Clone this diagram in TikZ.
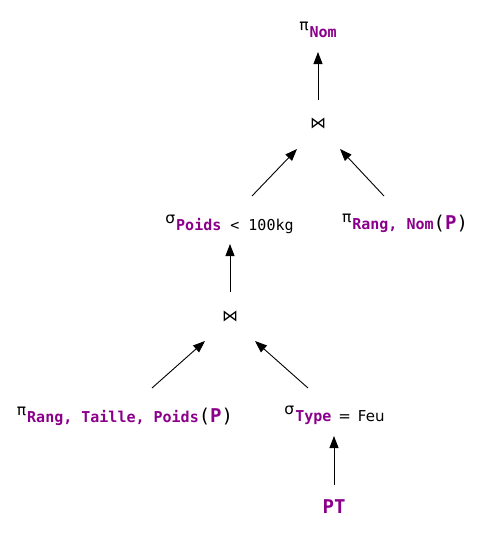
\documentclass[tikz,border=0pt]{standalone}
\usepackage{fontspec}
\usetikzlibrary{arrows.meta}
\newfontfamily\gkfont{DejaVu Sans}
\newfontfamily\monofont{DejaVu Sans Mono}
\definecolor{prp}{HTML}{8B008B}
\newcommand\opsym[1]{\raisebox{7pt}{\gkfont\fontsize{15.5}{17}\selectfont #1}\kern1pt}
\newcommand\subtxt[1]{{\monofont\bfseries\fontsize{15}{17}\selectfont\color{prp}#1}}
\newcommand\montxt[1]{{\monofont\fontsize{15}{17}\selectfont #1}}
\newcommand\reltxt[1]{{\monofont\fontsize{19}{21}\selectfont(\textbf{\color{prp}#1})}}
\begin{document}
\begin{tikzpicture}[x=1pt,y=-1pt,
  lbl/.style={inner sep=0pt,anchor=base},
  joinsym/.style={inner sep=0pt,font=\gkfont\fontsize{16}{18}\selectfont},
  arr/.style={-{Triangle[length=12pt,width=9pt]},line width=0.9pt,black}]
\useasboundingbox (0,0) rectangle (487,539);
\node[lbl] (nom) at (318,37) {\opsym{π}\subtxt{Nom}};
\node[joinsym] (j1) at (318,123) {⋈};
\node[lbl] (sel) at (229.5,230) {\opsym{σ}\subtxt{Poids}\montxt{ < 100kg}};
\node[lbl] (prn) at (405,229.5) {\opsym{π}\subtxt{Rang, Nom}\reltxt{P}};
\node[joinsym] (j2) at (230,316) {⋈};
\node[lbl] (prtp) at (125,422) {\opsym{π}\subtxt{Rang, Taille, Poids}\reltxt{P}};
\node[lbl] (selt) at (334.5,421.5) {\opsym{σ}\subtxt{Type}{\gkfont\fontsize{15}{17}\selectfont\hspace{7pt}=\hspace{7pt}Feu}};
\node[lbl] (pt) at (334,513) {{\monofont\bfseries\fontsize{19}{21}\selectfont\color{prp}PT}};
\draw[arr] ([shift={(0,-23)}]j1.center) -- ([shift={(0,15)}]nom.base);
\draw[arr] ([shift={(22.5,-34)}]sel.base) -- ([shift={(-21,26)}]j1.center);
\draw[arr] ([shift={(-21,-33.5)}]prn.base) -- ([shift={(22,26)}]j1.center);
\draw[arr] ([shift={(0,-24)}]j2.center) -- ([shift={(0.5,14)}]sel.base);
\draw[arr] ([shift={(27,-34)}]prtp.base) -- ([shift={(-25,25)}]j2.center);
\draw[arr] ([shift={(-26.5,-33.5)}]selt.base) -- ([shift={(25,25)}]j2.center);
\draw[arr] ([shift={(0,-28)}]pt.base) -- ([shift={(-0.5,14.5)}]selt.base);
\end{tikzpicture}
\end{document}
